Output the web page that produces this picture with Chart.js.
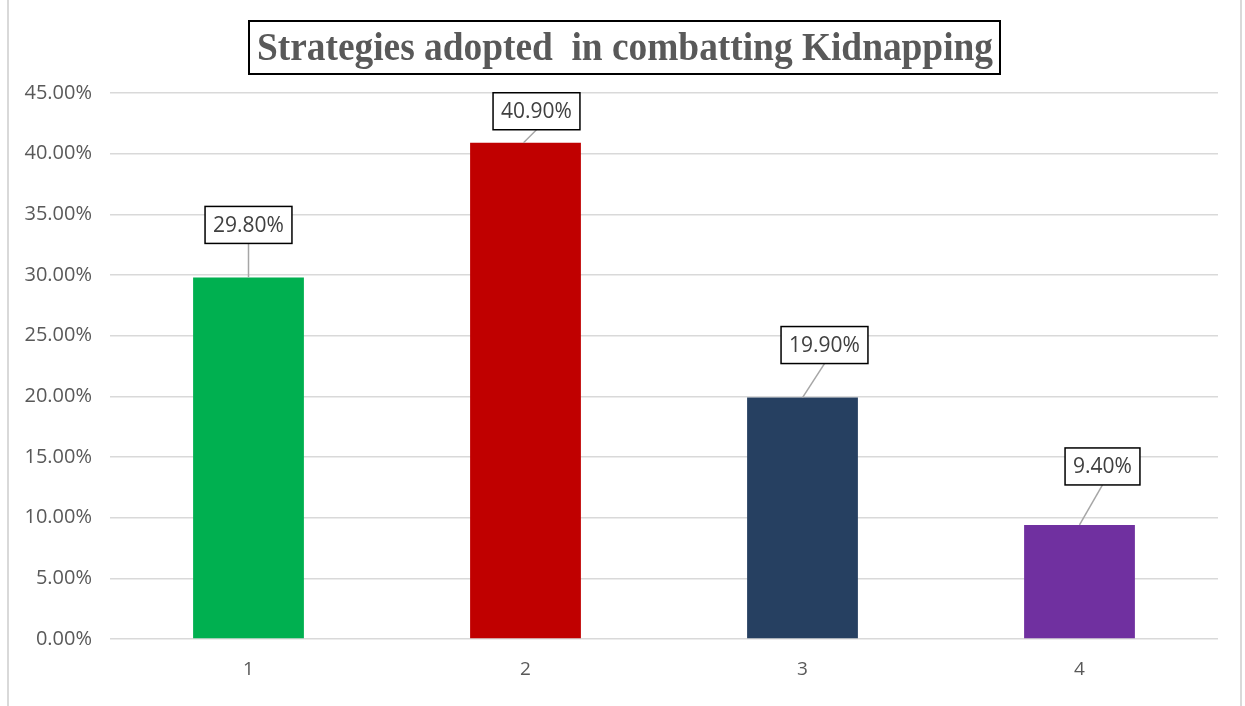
<!DOCTYPE html>
<html>
<head>
<meta charset="utf-8">
<script src="https://cdn.jsdelivr.net/npm/chart.js@4.4.1/dist/chart.umd.min.js"></script>
<style>
  html, body { margin: 0; padding: 0; background: #ffffff; }
  #wrap { position: relative; width: 1245px; height: 706px; }
</style>
</head>
<body>
<div id="wrap"><canvas id="c" width="1245" height="706"></canvas></div>
<script>
const categories = ['1', '2', '3', '4'];
const values = [29.8, 40.9, 19.9, 9.4];
const valueLabels = ['29.80%', '40.90%', '19.90%', '9.40%'];
const barColors = ['#00b050', '#c00000', '#264061', '#7030a0'];
const titleText = 'Strategies adopted  in combatting Kidnapping';

const frameAndTitle = {
  id: 'frameAndTitle',
  beforeDraw(chart) {
    const ctx = chart.ctx;
    ctx.save();
    ctx.fillStyle = '#ffffff';
    ctx.fillRect(0, 0, chart.width, chart.height);
    ctx.strokeStyle = '#d9d9d9';
    ctx.lineWidth = 2;
    ctx.beginPath();
    ctx.moveTo(8, 0); ctx.lineTo(8, chart.height);
    ctx.moveTo(1241, 0); ctx.lineTo(1241, chart.height);
    ctx.stroke();
    ctx.restore();
  },
  afterDraw(chart) {
    const ctx = chart.ctx;
    ctx.save();
    ctx.fillStyle = '#ffffff';
    ctx.fillRect(249, 21, 751, 53);
    ctx.strokeStyle = '#000000';
    ctx.lineWidth = 2;
    ctx.strokeRect(249, 21, 751, 53);
    ctx.font = 'bold 40px "Liberation Serif", "Times New Roman", serif';
    const w = ctx.measureText(titleText).width;
    const target = 736;
    const sx = target / w;
    ctx.translate(625, 60);
    ctx.scale(sx, 1);
    ctx.fillStyle = '#595959';
    ctx.textAlign = 'center';
    ctx.textBaseline = 'alphabetic';
    ctx.fillText(titleText, 0, 0);
    ctx.restore();
  }
};

const calloutLabels = {
  id: 'calloutLabels',
  afterDatasetsDraw(chart, args, opts) {
    const ctx = chart.ctx;
    const meta = chart.getDatasetMeta(0);
    ctx.save();
    ctx.font = '21px "Open Sans", sans-serif';
    meta.data.forEach((bar, i) => {
      const off = opts.offsets[i];
      const text = valueLabels[i];
      const tw = ctx.measureText(text).width;
      const bw = tw + 16, bh = 37;
      const cx = bar.x + off[0];
      const bottom = bar.y - off[1];
      const left = cx - bw / 2, top = bottom - bh;
      ctx.strokeStyle = '#a6a6a6';
      ctx.lineWidth = 1.5;
      ctx.beginPath();
      ctx.moveTo(cx, bottom);
      ctx.lineTo(bar.x - off[2], bar.y);
      ctx.stroke();
      ctx.fillStyle = '#ffffff';
      ctx.fillRect(left, top, bw, bh);
      ctx.strokeStyle = '#000000';
      ctx.lineWidth = 1.5;
      ctx.strokeRect(left, top, bw, bh);
      ctx.fillStyle = '#404040';
      ctx.textAlign = 'center';
      ctx.textBaseline = 'middle';
      ctx.fillText(text, cx, top + bh / 2 + 1);
    });
    ctx.restore();
  }
};

new Chart(document.getElementById('c'), {
  type: 'bar',
  data: {
    labels: categories,
    datasets: [{
      data: values,
      backgroundColor: barColors,
      borderWidth: 0,
      barPercentage: 0.4,
      categoryPercentage: 1.0
    }]
  },
  options: {
    responsive: false,
    animation: false,
    devicePixelRatio: 1,
    layout: { padding: { top: 93, right: 27, bottom: 0, left: 0 } },
    plugins: {
      legend: { display: false },
      title: { display: false },
      tooltip: { enabled: false },
      calloutLabels: { offsets: [[0, 34, 0], [11, 13, 2], [22, 34, 0], [23, 40, 0]] }
    },
    scales: {
      x: {
        grid: { display: false, drawTicks: false },
        border: { display: false },
        ticks: { color: '#595959', font: { family: '"Open Sans", sans-serif', size: 19 }, padding: 19 },
        afterFit(scale) { scale.height = 67; }
      },
      y: {
        min: 0,
        max: 45,
        ticks: {
          stepSize: 5,
          color: '#595959',
          font: { family: '"Open Sans", sans-serif', size: 20 },
          padding: 18,
          callback: v => v.toFixed(2) + '%'
        },
        grid: { color: '#d9d9d9', lineWidth: 1.5, drawTicks: false },
        border: { display: false },
        afterFit(scale) { scale.width = 110; }
      }
    }
  },
  plugins: [frameAndTitle, calloutLabels]
});
</script>
</body>
</html>
